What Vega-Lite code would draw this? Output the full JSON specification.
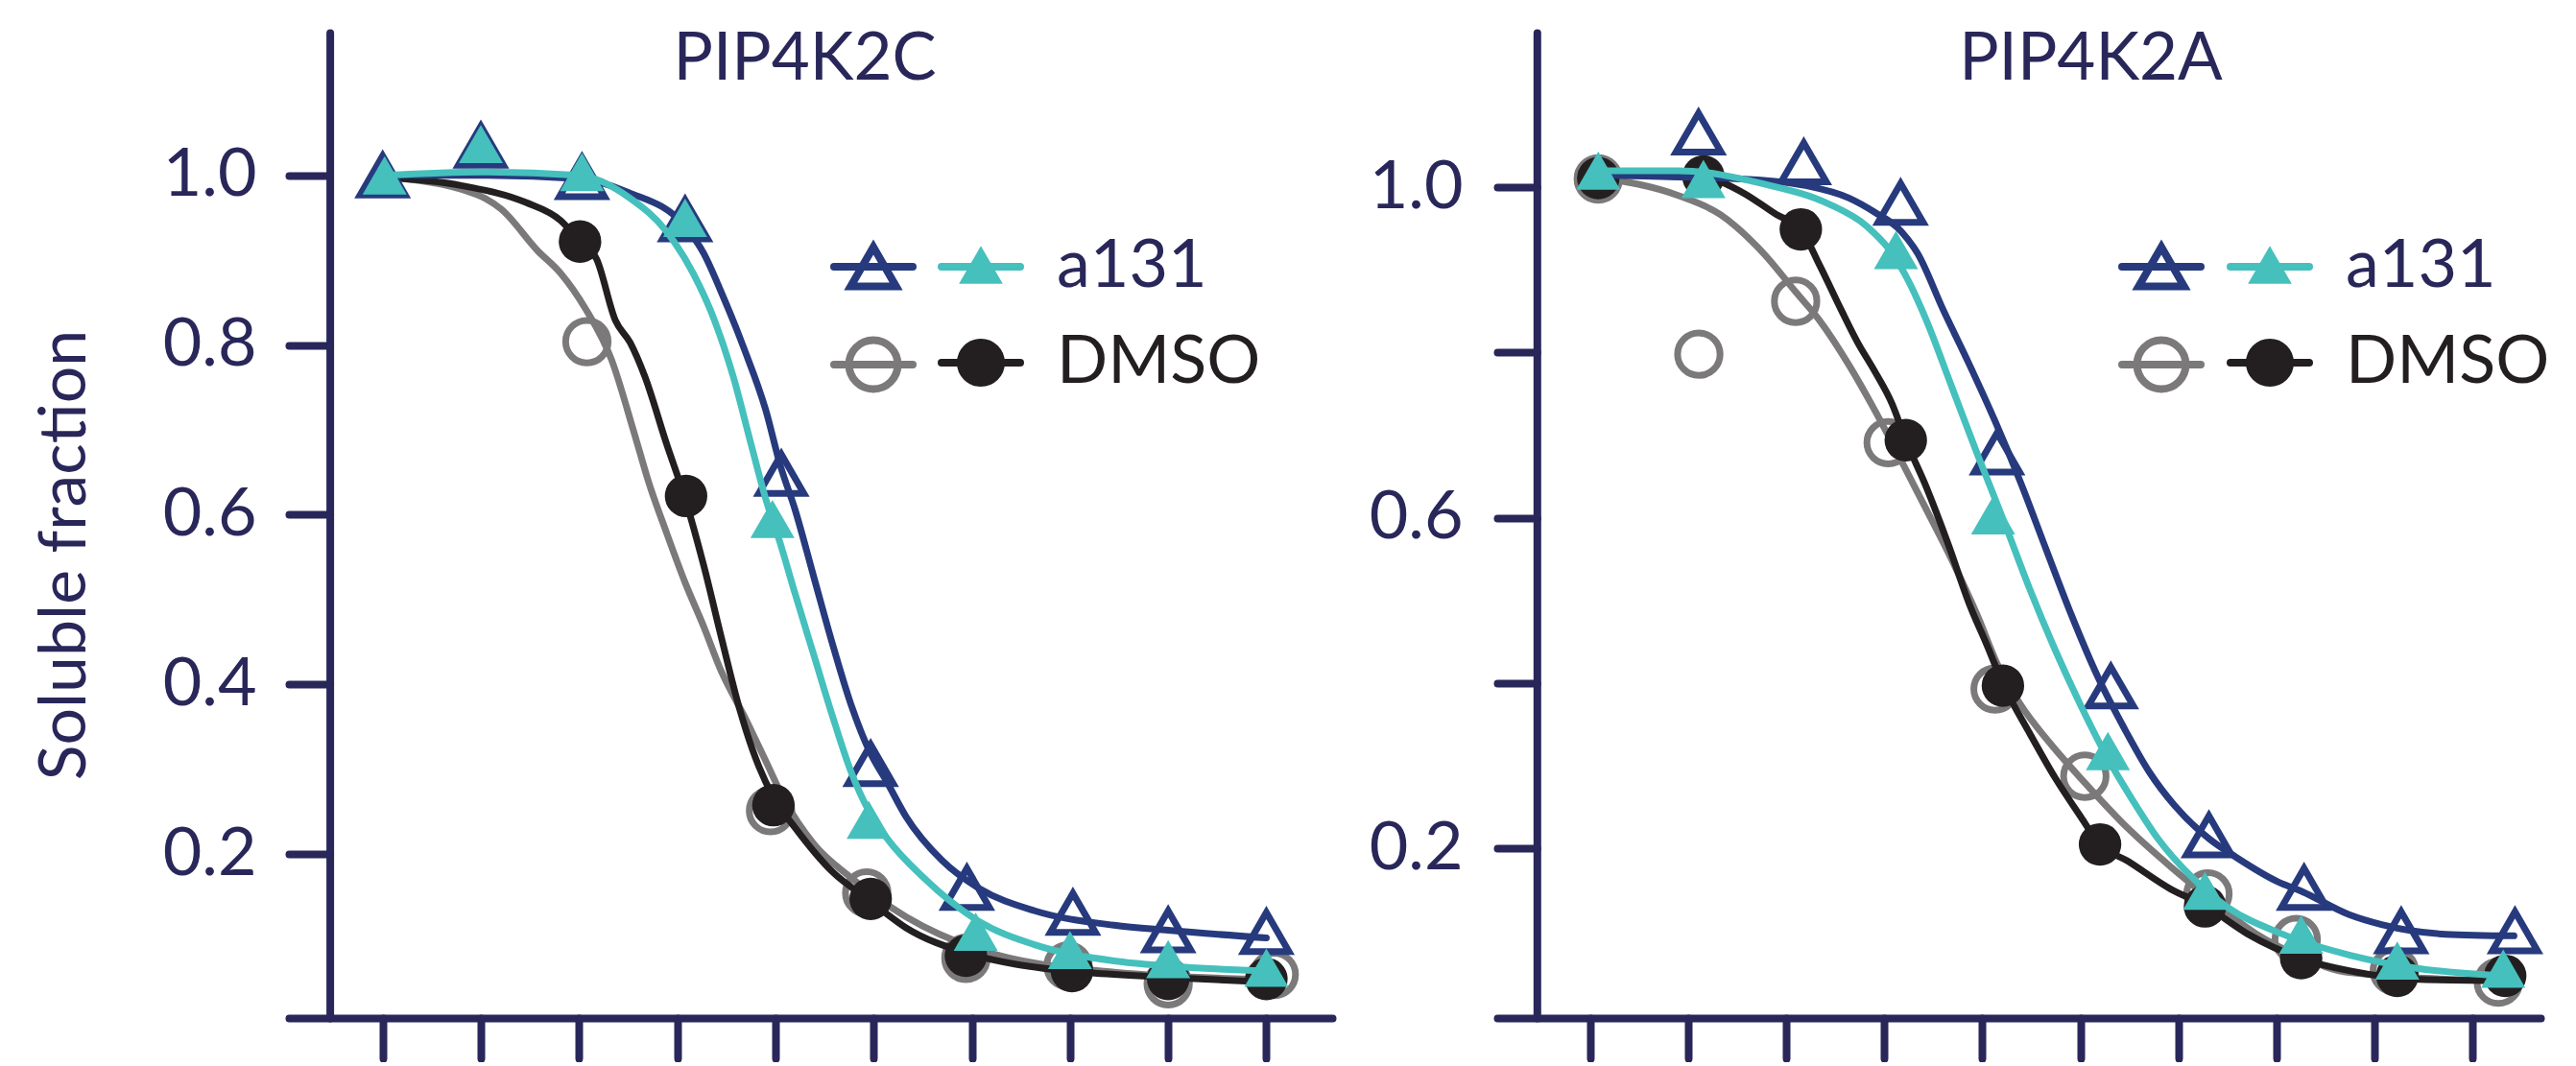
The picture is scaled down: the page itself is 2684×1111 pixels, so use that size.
{
"$schema": "https://vega.github.io/schema/vega-lite/v6.json",
"background": "white",
"padding": {"left": 34, "top": 28, "right": 0, "bottom": 0},
"spacing": 38,
"config": {
  "view": {"stroke": null},
  "font": "Lato",
  "axis": {"grid": false, "domainColor": "#292759", "tickColor": "#292759", "domainWidth": 8, "tickWidth": 8, "domainCap": "round", "tickCap": "round", "labelColor": "#292759", "labelFont": "Lato", "labelFontSize": 70, "titleColor": "#292759", "titleFont": "Lato", "titleFontWeight": "normal"},
  "title": {"font": "Lato", "fontSize": 69, "fontWeight": "normal", "color": "#292759"}
},
"datasets": {
  "pts": [
    {"p":"PIP4K2C","g":"a131","r":"open","x":1.0,"y":1.0},{"p":"PIP4K2C","g":"a131","r":"open","x":2.0,"y":1.035},{"p":"PIP4K2C","g":"a131","r":"open","x":3.03,"y":0.998},{"p":"PIP4K2C","g":"a131","r":"open","x":4.08,"y":0.948},{"p":"PIP4K2C","g":"a131","r":"open","x":5.06,"y":0.648},{"p":"PIP4K2C","g":"a131","r":"open","x":5.97,"y":0.306},{"p":"PIP4K2C","g":"a131","r":"open","x":6.95,"y":0.16},{"p":"PIP4K2C","g":"a131","r":"open","x":8.03,"y":0.1305},{"p":"PIP4K2C","g":"a131","r":"open","x":9.0,"y":0.11},{"p":"PIP4K2C","g":"a131","r":"open","x":10.0,"y":0.108},
    {"p":"PIP4K2C","g":"a131","r":"filled","x":1.02,"y":1.0},{"p":"PIP4K2C","g":"a131","r":"filled","x":2.0,"y":1.037},{"p":"PIP4K2C","g":"a131","r":"filled","x":3.03,"y":1.004},{"p":"PIP4K2C","g":"a131","r":"filled","x":4.08,"y":0.95},{"p":"PIP4K2C","g":"a131","r":"filled","x":4.97,"y":0.595},{"p":"PIP4K2C","g":"a131","r":"filled","x":5.95,"y":0.2404},{"p":"PIP4K2C","g":"a131","r":"filled","x":7.04,"y":0.1084},{"p":"PIP4K2C","g":"a131","r":"filled","x":8.0,"y":0.0868},{"p":"PIP4K2C","g":"a131","r":"filled","x":9.0,"y":0.076},{"p":"PIP4K2C","g":"a131","r":"filled","x":10.0,"y":0.066},
    {"p":"PIP4K2C","g":"DMSO","r":"filled","x":3.01,"y":0.922},{"p":"PIP4K2C","g":"DMSO","r":"filled","x":4.09,"y":0.622},{"p":"PIP4K2C","g":"DMSO","r":"filled","x":4.98,"y":0.2575},{"p":"PIP4K2C","g":"DMSO","r":"filled","x":5.97,"y":0.147},{"p":"PIP4K2C","g":"DMSO","r":"filled","x":6.94,"y":0.08},{"p":"PIP4K2C","g":"DMSO","r":"filled","x":8.02,"y":0.062},{"p":"PIP4K2C","g":"DMSO","r":"filled","x":9.0,"y":0.0526},{"p":"PIP4K2C","g":"DMSO","r":"filled","x":10.0,"y":0.0526},
    {"p":"PIP4K2C","g":"DMSO","r":"open","x":3.08,"y":0.804},{"p":"PIP4K2C","g":"DMSO","r":"open","x":4.95,"y":0.251},{"p":"PIP4K2C","g":"DMSO","r":"open","x":5.93,"y":0.154},{"p":"PIP4K2C","g":"DMSO","r":"open","x":6.94,"y":0.077},{"p":"PIP4K2C","g":"DMSO","r":"open","x":7.98,"y":0.068},{"p":"PIP4K2C","g":"DMSO","r":"open","x":9.0,"y":0.047},{"p":"PIP4K2C","g":"DMSO","r":"open","x":10.08,"y":0.058},
    {"p":"PIP4K2A","g":"a131","r":"open","x":2.107,"y":1.066},{"p":"PIP4K2A","g":"a131","r":"open","x":3.18,"y":1.03},{"p":"PIP4K2A","g":"a131","r":"open","x":4.167,"y":0.981},{"p":"PIP4K2A","g":"a131","r":"open","x":5.15,"y":0.679},{"p":"PIP4K2A","g":"a131","r":"open","x":6.31,"y":0.396},{"p":"PIP4K2A","g":"a131","r":"open","x":7.31,"y":0.216},{"p":"PIP4K2A","g":"a131","r":"open","x":8.28,"y":0.1525},{"p":"PIP4K2A","g":"a131","r":"open","x":9.27,"y":0.1},{"p":"PIP4K2A","g":"a131","r":"open","x":10.43,"y":0.1},
    {"p":"PIP4K2A","g":"a131","r":"filled","x":1.085,"y":1.02},{"p":"PIP4K2A","g":"a131","r":"filled","x":2.157,"y":1.01},{"p":"PIP4K2A","g":"a131","r":"filled","x":4.12,"y":0.924},{"p":"PIP4K2A","g":"a131","r":"filled","x":5.11,"y":0.603},{"p":"PIP4K2A","g":"a131","r":"filled","x":6.28,"y":0.318},{"p":"PIP4K2A","g":"a131","r":"filled","x":7.27,"y":0.149},{"p":"PIP4K2A","g":"a131","r":"filled","x":8.25,"y":0.096},{"p":"PIP4K2A","g":"a131","r":"filled","x":9.23,"y":0.0645},{"p":"PIP4K2A","g":"a131","r":"filled","x":10.31,"y":0.0548},
    {"p":"PIP4K2A","g":"DMSO","r":"filled","x":1.085,"y":1.011},{"p":"PIP4K2A","g":"DMSO","r":"filled","x":2.157,"y":1.013},{"p":"PIP4K2A","g":"DMSO","r":"filled","x":3.15,"y":0.949},{"p":"PIP4K2A","g":"DMSO","r":"filled","x":4.22,"y":0.694},{"p":"PIP4K2A","g":"DMSO","r":"filled","x":5.21,"y":0.397},{"p":"PIP4K2A","g":"DMSO","r":"filled","x":6.2,"y":0.205},{"p":"PIP4K2A","g":"DMSO","r":"filled","x":7.27,"y":0.13},{"p":"PIP4K2A","g":"DMSO","r":"filled","x":8.25,"y":0.0674},{"p":"PIP4K2A","g":"DMSO","r":"filled","x":9.23,"y":0.0461},{"p":"PIP4K2A","g":"DMSO","r":"filled","x":10.33,"y":0.046},
    {"p":"PIP4K2A","g":"DMSO","r":"open","x":1.085,"y":1.01},{"p":"PIP4K2A","g":"DMSO","r":"open","x":2.11,"y":0.798},{"p":"PIP4K2A","g":"DMSO","r":"open","x":3.097,"y":0.862},{"p":"PIP4K2A","g":"DMSO","r":"open","x":4.04,"y":0.691},{"p":"PIP4K2A","g":"DMSO","r":"open","x":5.13,"y":0.393},{"p":"PIP4K2A","g":"DMSO","r":"open","x":6.045,"y":0.2875},{"p":"PIP4K2A","g":"DMSO","r":"open","x":7.3,"y":0.145},{"p":"PIP4K2A","g":"DMSO","r":"open","x":8.2,"y":0.09},{"p":"PIP4K2A","g":"DMSO","r":"open","x":9.2,"y":0.052},{"p":"PIP4K2A","g":"DMSO","r":"open","x":10.26,"y":0.0383}
  ],
  "fit": [
    {"p":"PIP4K2C","g":"a131","r":"open","x":1.0,"y":1.0},{"p":"PIP4K2C","g":"a131","r":"open","x":2.0,"y":1.0},{"p":"PIP4K2C","g":"a131","r":"open","x":3.0,"y":0.996},{"p":"PIP4K2C","g":"a131","r":"open","x":3.5,"y":0.98},{"p":"PIP4K2C","g":"a131","r":"open","x":4.08,"y":0.94},{"p":"PIP4K2C","g":"a131","r":"open","x":4.27,"y":0.908},{"p":"PIP4K2C","g":"a131","r":"open","x":4.45,"y":0.862},{"p":"PIP4K2C","g":"a131","r":"open","x":4.68,"y":0.796},{"p":"PIP4K2C","g":"a131","r":"open","x":4.9,"y":0.724},{"p":"PIP4K2C","g":"a131","r":"open","x":5.05,"y":0.658},{"p":"PIP4K2C","g":"a131","r":"open","x":5.2,"y":0.606},{"p":"PIP4K2C","g":"a131","r":"open","x":5.39,"y":0.527},{"p":"PIP4K2C","g":"a131","r":"open","x":5.58,"y":0.448},{"p":"PIP4K2C","g":"a131","r":"open","x":5.77,"y":0.376},{"p":"PIP4K2C","g":"a131","r":"open","x":5.95,"y":0.323},{"p":"PIP4K2C","g":"a131","r":"open","x":6.14,"y":0.284},{"p":"PIP4K2C","g":"a131","r":"open","x":6.33,"y":0.244},{"p":"PIP4K2C","g":"a131","r":"open","x":6.7,"y":0.192},{"p":"PIP4K2C","g":"a131","r":"open","x":7.08,"y":0.159},{"p":"PIP4K2C","g":"a131","r":"open","x":7.64,"y":0.133},{"p":"PIP4K2C","g":"a131","r":"open","x":8.45,"y":0.116},{"p":"PIP4K2C","g":"a131","r":"open","x":9.0,"y":0.11},{"p":"PIP4K2C","g":"a131","r":"open","x":10.0,"y":0.101},
    {"p":"PIP4K2C","g":"a131","r":"filled","x":1.02,"y":1.0},{"p":"PIP4K2C","g":"a131","r":"filled","x":2.0,"y":1.004},{"p":"PIP4K2C","g":"a131","r":"filled","x":3.0,"y":1.0},{"p":"PIP4K2C","g":"a131","r":"filled","x":3.52,"y":0.973},{"p":"PIP4K2C","g":"a131","r":"filled","x":3.89,"y":0.934},{"p":"PIP4K2C","g":"a131","r":"filled","x":4.16,"y":0.885},{"p":"PIP4K2C","g":"a131","r":"filled","x":4.38,"y":0.829},{"p":"PIP4K2C","g":"a131","r":"filled","x":4.57,"y":0.763},{"p":"PIP4K2C","g":"a131","r":"filled","x":4.75,"y":0.684},{"p":"PIP4K2C","g":"a131","r":"filled","x":4.9,"y":0.619},{"p":"PIP4K2C","g":"a131","r":"filled","x":5.05,"y":0.566},{"p":"PIP4K2C","g":"a131","r":"filled","x":5.2,"y":0.507},{"p":"PIP4K2C","g":"a131","r":"filled","x":5.39,"y":0.435},{"p":"PIP4K2C","g":"a131","r":"filled","x":5.58,"y":0.363},{"p":"PIP4K2C","g":"a131","r":"filled","x":5.77,"y":0.297},{"p":"PIP4K2C","g":"a131","r":"filled","x":5.95,"y":0.251},{"p":"PIP4K2C","g":"a131","r":"filled","x":6.14,"y":0.218},{"p":"PIP4K2C","g":"a131","r":"filled","x":6.51,"y":0.172},{"p":"PIP4K2C","g":"a131","r":"filled","x":7.08,"y":0.12},{"p":"PIP4K2C","g":"a131","r":"filled","x":7.64,"y":0.093},{"p":"PIP4K2C","g":"a131","r":"filled","x":8.45,"y":0.074},{"p":"PIP4K2C","g":"a131","r":"filled","x":9.0,"y":0.068},{"p":"PIP4K2C","g":"a131","r":"filled","x":10.0,"y":0.062},
    {"p":"PIP4K2C","g":"DMSO","r":"filled","x":1.0,"y":0.998},{"p":"PIP4K2C","g":"DMSO","r":"filled","x":1.8,"y":0.988},{"p":"PIP4K2C","g":"DMSO","r":"filled","x":2.46,"y":0.968},{"p":"PIP4K2C","g":"DMSO","r":"filled","x":2.81,"y":0.947},{"p":"PIP4K2C","g":"DMSO","r":"filled","x":3.01,"y":0.922},{"p":"PIP4K2C","g":"DMSO","r":"filled","x":3.18,"y":0.901},{"p":"PIP4K2C","g":"DMSO","r":"filled","x":3.37,"y":0.829},{"p":"PIP4K2C","g":"DMSO","r":"filled","x":3.52,"y":0.803},{"p":"PIP4K2C","g":"DMSO","r":"filled","x":3.67,"y":0.763},{"p":"PIP4K2C","g":"DMSO","r":"filled","x":3.89,"y":0.684},{"p":"PIP4K2C","g":"DMSO","r":"filled","x":4.08,"y":0.619},{"p":"PIP4K2C","g":"DMSO","r":"filled","x":4.27,"y":0.54},{"p":"PIP4K2C","g":"DMSO","r":"filled","x":4.45,"y":0.455},{"p":"PIP4K2C","g":"DMSO","r":"filled","x":4.64,"y":0.369},{"p":"PIP4K2C","g":"DMSO","r":"filled","x":4.83,"y":0.3035},{"p":"PIP4K2C","g":"DMSO","r":"filled","x":4.98,"y":0.267},{"p":"PIP4K2C","g":"DMSO","r":"filled","x":5.2,"y":0.231},{"p":"PIP4K2C","g":"DMSO","r":"filled","x":5.58,"y":0.179},{"p":"PIP4K2C","g":"DMSO","r":"filled","x":5.95,"y":0.146},{"p":"PIP4K2C","g":"DMSO","r":"filled","x":6.33,"y":0.113},{"p":"PIP4K2C","g":"DMSO","r":"filled","x":6.94,"y":0.0835},{"p":"PIP4K2C","g":"DMSO","r":"filled","x":7.45,"y":0.07},{"p":"PIP4K2C","g":"DMSO","r":"filled","x":8.2,"y":0.06},{"p":"PIP4K2C","g":"DMSO","r":"filled","x":9.0,"y":0.0545},{"p":"PIP4K2C","g":"DMSO","r":"filled","x":10.0,"y":0.049},
    {"p":"PIP4K2C","g":"DMSO","r":"open","x":1.0,"y":0.998},{"p":"PIP4K2C","g":"DMSO","r":"open","x":1.79,"y":0.984},{"p":"PIP4K2C","g":"DMSO","r":"open","x":2.21,"y":0.96},{"p":"PIP4K2C","g":"DMSO","r":"open","x":2.58,"y":0.911},{"p":"PIP4K2C","g":"DMSO","r":"open","x":2.81,"y":0.885},{"p":"PIP4K2C","g":"DMSO","r":"open","x":3.07,"y":0.842},{"p":"PIP4K2C","g":"DMSO","r":"open","x":3.33,"y":0.783},{"p":"PIP4K2C","g":"DMSO","r":"open","x":3.56,"y":0.697},{"p":"PIP4K2C","g":"DMSO","r":"open","x":3.71,"y":0.638},{"p":"PIP4K2C","g":"DMSO","r":"open","x":3.89,"y":0.579},{"p":"PIP4K2C","g":"DMSO","r":"open","x":4.08,"y":0.52},{"p":"PIP4K2C","g":"DMSO","r":"open","x":4.27,"y":0.468},{"p":"PIP4K2C","g":"DMSO","r":"open","x":4.45,"y":0.415},{"p":"PIP4K2C","g":"DMSO","r":"open","x":4.68,"y":0.363},{"p":"PIP4K2C","g":"DMSO","r":"open","x":4.9,"y":0.31},{"p":"PIP4K2C","g":"DMSO","r":"open","x":5.09,"y":0.264},{"p":"PIP4K2C","g":"DMSO","r":"open","x":5.39,"y":0.212},{"p":"PIP4K2C","g":"DMSO","r":"open","x":5.77,"y":0.172},{"p":"PIP4K2C","g":"DMSO","r":"open","x":6.33,"y":0.126},{"p":"PIP4K2C","g":"DMSO","r":"open","x":7.08,"y":0.087},{"p":"PIP4K2C","g":"DMSO","r":"open","x":8.45,"y":0.0605},{"p":"PIP4K2C","g":"DMSO","r":"open","x":10.0,"y":0.052},
    {"p":"PIP4K2A","g":"a131","r":"open","x":1.085,"y":1.015},{"p":"PIP4K2A","g":"a131","r":"open","x":2.0,"y":1.012},{"p":"PIP4K2A","g":"a131","r":"open","x":2.55,"y":1.01},{"p":"PIP4K2A","g":"a131","r":"open","x":3.2,"y":1.002},{"p":"PIP4K2A","g":"a131","r":"open","x":3.64,"y":0.987},{"p":"PIP4K2A","g":"a131","r":"open","x":3.9,"y":0.97},{"p":"PIP4K2A","g":"a131","r":"open","x":4.17,"y":0.947},{"p":"PIP4K2A","g":"a131","r":"open","x":4.34,"y":0.92},{"p":"PIP4K2A","g":"a131","r":"open","x":4.6,"y":0.852},{"p":"PIP4K2A","g":"a131","r":"open","x":4.87,"y":0.785},{"p":"PIP4K2A","g":"a131","r":"open","x":5.13,"y":0.717},{"p":"PIP4K2A","g":"a131","r":"open","x":5.39,"y":0.643},{"p":"PIP4K2A","g":"a131","r":"open","x":5.65,"y":0.562},{"p":"PIP4K2A","g":"a131","r":"open","x":5.91,"y":0.482},{"p":"PIP4K2A","g":"a131","r":"open","x":6.18,"y":0.407},{"p":"PIP4K2A","g":"a131","r":"open","x":6.44,"y":0.347},{"p":"PIP4K2A","g":"a131","r":"open","x":6.7,"y":0.293},{"p":"PIP4K2A","g":"a131","r":"open","x":6.96,"y":0.252},{"p":"PIP4K2A","g":"a131","r":"open","x":7.31,"y":0.212},{"p":"PIP4K2A","g":"a131","r":"open","x":7.58,"y":0.19},{"p":"PIP4K2A","g":"a131","r":"open","x":8.01,"y":0.16},{"p":"PIP4K2A","g":"a131","r":"open","x":8.26,"y":0.148},{"p":"PIP4K2A","g":"a131","r":"open","x":8.74,"y":0.12},{"p":"PIP4K2A","g":"a131","r":"open","x":9.07,"y":0.108},{"p":"PIP4K2A","g":"a131","r":"open","x":9.72,"y":0.0964},{"p":"PIP4K2A","g":"a131","r":"open","x":10.42,"y":0.0944},
    {"p":"PIP4K2A","g":"a131","r":"filled","x":1.085,"y":1.02},{"p":"PIP4K2A","g":"a131","r":"filled","x":1.9,"y":1.02},{"p":"PIP4K2A","g":"a131","r":"filled","x":2.77,"y":1.004},{"p":"PIP4K2A","g":"a131","r":"filled","x":3.43,"y":0.98},{"p":"PIP4K2A","g":"a131","r":"filled","x":3.82,"y":0.953},{"p":"PIP4K2A","g":"a131","r":"filled","x":4.08,"y":0.92},{"p":"PIP4K2A","g":"a131","r":"filled","x":4.25,"y":0.886},{"p":"PIP4K2A","g":"a131","r":"filled","x":4.43,"y":0.839},{"p":"PIP4K2A","g":"a131","r":"filled","x":4.69,"y":0.758},{"p":"PIP4K2A","g":"a131","r":"filled","x":4.95,"y":0.677},{"p":"PIP4K2A","g":"a131","r":"filled","x":5.22,"y":0.596},{"p":"PIP4K2A","g":"a131","r":"filled","x":5.48,"y":0.515},{"p":"PIP4K2A","g":"a131","r":"filled","x":5.74,"y":0.441},{"p":"PIP4K2A","g":"a131","r":"filled","x":6.0,"y":0.374},{"p":"PIP4K2A","g":"a131","r":"filled","x":6.26,"y":0.313},{"p":"PIP4K2A","g":"a131","r":"filled","x":6.53,"y":0.259},{"p":"PIP4K2A","g":"a131","r":"filled","x":6.79,"y":0.212},{"p":"PIP4K2A","g":"a131","r":"filled","x":7.14,"y":0.165},{"p":"PIP4K2A","g":"a131","r":"filled","x":7.5,"y":0.129},{"p":"PIP4K2A","g":"a131","r":"filled","x":8.05,"y":0.097},{"p":"PIP4K2A","g":"a131","r":"filled","x":8.75,"y":0.071},{"p":"PIP4K2A","g":"a131","r":"filled","x":9.4,"y":0.0557},{"p":"PIP4K2A","g":"a131","r":"filled","x":10.31,"y":0.046},
    {"p":"PIP4K2A","g":"DMSO","r":"filled","x":1.085,"y":1.015},{"p":"PIP4K2A","g":"DMSO","r":"filled","x":2.157,"y":1.012},{"p":"PIP4K2A","g":"DMSO","r":"filled","x":2.55,"y":0.994},{"p":"PIP4K2A","g":"DMSO","r":"filled","x":2.9,"y":0.967},{"p":"PIP4K2A","g":"DMSO","r":"filled","x":3.15,"y":0.949},{"p":"PIP4K2A","g":"DMSO","r":"filled","x":3.34,"y":0.906},{"p":"PIP4K2A","g":"DMSO","r":"filled","x":3.56,"y":0.852},{"p":"PIP4K2A","g":"DMSO","r":"filled","x":3.73,"y":0.812},{"p":"PIP4K2A","g":"DMSO","r":"filled","x":3.9,"y":0.778},{"p":"PIP4K2A","g":"DMSO","r":"filled","x":4.08,"y":0.738},{"p":"PIP4K2A","g":"DMSO","r":"filled","x":4.22,"y":0.694},{"p":"PIP4K2A","g":"DMSO","r":"filled","x":4.43,"y":0.637},{"p":"PIP4K2A","g":"DMSO","r":"filled","x":4.65,"y":0.569},{"p":"PIP4K2A","g":"DMSO","r":"filled","x":4.87,"y":0.495},{"p":"PIP4K2A","g":"DMSO","r":"filled","x":5.04,"y":0.448},{"p":"PIP4K2A","g":"DMSO","r":"filled","x":5.22,"y":0.397},{"p":"PIP4K2A","g":"DMSO","r":"filled","x":5.48,"y":0.34},{"p":"PIP4K2A","g":"DMSO","r":"filled","x":5.74,"y":0.286},{"p":"PIP4K2A","g":"DMSO","r":"filled","x":6.0,"y":0.239},{"p":"PIP4K2A","g":"DMSO","r":"filled","x":6.2,"y":0.205},{"p":"PIP4K2A","g":"DMSO","r":"filled","x":6.48,"y":0.185},{"p":"PIP4K2A","g":"DMSO","r":"filled","x":6.92,"y":0.151},{"p":"PIP4K2A","g":"DMSO","r":"filled","x":7.27,"y":0.131},{"p":"PIP4K2A","g":"DMSO","r":"filled","x":7.7,"y":0.097},{"p":"PIP4K2A","g":"DMSO","r":"filled","x":8.25,"y":0.067},{"p":"PIP4K2A","g":"DMSO","r":"filled","x":8.75,"y":0.052},{"p":"PIP4K2A","g":"DMSO","r":"filled","x":9.4,"y":0.042},{"p":"PIP4K2A","g":"DMSO","r":"filled","x":10.33,"y":0.04},
    {"p":"PIP4K2A","g":"DMSO","r":"open","x":1.085,"y":1.012},{"p":"PIP4K2A","g":"DMSO","r":"open","x":1.9,"y":0.99},{"p":"PIP4K2A","g":"DMSO","r":"open","x":2.33,"y":0.967},{"p":"PIP4K2A","g":"DMSO","r":"open","x":2.77,"y":0.92},{"p":"PIP4K2A","g":"DMSO","r":"open","x":3.1,"y":0.873},{"p":"PIP4K2A","g":"DMSO","r":"open","x":3.34,"y":0.839},{"p":"PIP4K2A","g":"DMSO","r":"open","x":3.64,"y":0.785},{"p":"PIP4K2A","g":"DMSO","r":"open","x":3.9,"y":0.731},{"p":"PIP4K2A","g":"DMSO","r":"open","x":4.17,"y":0.67},{"p":"PIP4K2A","g":"DMSO","r":"open","x":4.43,"y":0.61},{"p":"PIP4K2A","g":"DMSO","r":"open","x":4.69,"y":0.549},{"p":"PIP4K2A","g":"DMSO","r":"open","x":4.95,"y":0.482},{"p":"PIP4K2A","g":"DMSO","r":"open","x":5.15,"y":0.424},{"p":"PIP4K2A","g":"DMSO","r":"open","x":5.39,"y":0.374},{"p":"PIP4K2A","g":"DMSO","r":"open","x":5.7,"y":0.326},{"p":"PIP4K2A","g":"DMSO","r":"open","x":6.05,"y":0.279},{"p":"PIP4K2A","g":"DMSO","r":"open","x":6.48,"y":0.225},{"p":"PIP4K2A","g":"DMSO","r":"open","x":6.92,"y":0.178},{"p":"PIP4K2A","g":"DMSO","r":"open","x":7.3,"y":0.141},{"p":"PIP4K2A","g":"DMSO","r":"open","x":7.79,"y":0.097},{"p":"PIP4K2A","g":"DMSO","r":"open","x":8.23,"y":0.07},{"p":"PIP4K2A","g":"DMSO","r":"open","x":8.74,"y":0.05},{"p":"PIP4K2A","g":"DMSO","r":"open","x":10.26,"y":0.04}
  ]
},
"hconcat": [
  {
    "width": 1087, "height": 1027,
    "title": {"text": "PIP4K2C", "anchor": "middle", "frame": "group", "baseline": "alphabetic", "offset": -43, "dx": -6, "dy": 75},
    "encoding": {
      "x": {"field": "x", "type": "quantitative", "scale": {"domain": [0.045, 10.67], "nice": false, "zero": false}, "axis": {"values": [1,2,3,4,5,6,7,8,9,10], "labels": false, "tickSize": 42, "title": null}},
      "y": {"field": "y", "type": "quantitative", "scale": {"domain": [0.0066, 1.1683], "nice": false, "zero": false}, "axis": {"values": [0.2,0.4,0.6,0.8,1.0], "format": ".1f", "tickSize": 42.6, "labelPadding": 34, "offset": -42.6, "title": "Soluble fraction", "titleFontSize": 68, "titleAngle": -90, "titleX": -255, "titleY": 544, "titleAlign": "center", "titleBaseline": "alphabetic"}}
    },
    "layer": [
      {"data": {"name": "fit"}, "transform": [{"filter": "datum.p === 'PIP4K2C' && datum.r === 'open' && datum.g === 'DMSO'"}], "mark": {"type": "line", "interpolate": "monotone", "strokeWidth": 7, "strokeCap": "round"},
       "encoding": {"stroke": {"field": "g", "type": "nominal", "scale": {"range": ["#7b797a", "#273a7d"]}, "legend": {"orient": "none", "legendX": 564, "legendY": 199, "title": null, "values": ["a131", "DMSO"], "padding": 0, "rowPadding": 20, "symbolSize": 6724, "symbolStrokeWidth": 8, "labelFontSize": 70, "labelExpr": "''", "labelOffset": 0, "encode": {"symbols": {"update": {"shape": {"signal": "datum.value === 'a131' ? 'M-1,0H1M0,-0.5L0.578,0.5L-0.578,0.5Z' : 'M-1,0H1M-0.62,0A0.62,0.62 0 1,0 0.62,0A0.62,0.62 0 1,0 -0.62,0'"}, "stroke": {"signal": "datum.value === 'a131' ? '#273a7d' : '#7b797a'"}, "fill": {"value": "transparent"}, "strokeWidth": {"value": 8}, "strokeCap": {"value": "round"}, "opacity": {"value": 1}, "size": {"value": 6724}}}}}}}},
      {"data": {"name": "pts"}, "transform": [{"filter": "datum.p === 'PIP4K2C' && datum.r === 'open' && datum.g === 'DMSO'"}], "mark": {"type": "point", "shape": "circle", "filled": false, "opacity": 1, "size": 1963, "strokeWidth": 7},
       "encoding": {"stroke": {"field": "g", "type": "nominal", "scale": {"range": ["#7b797a", "#273a7d"]}, "legend": {"orient": "none", "legendX": 564, "legendY": 199, "title": null, "values": ["a131", "DMSO"], "padding": 0, "rowPadding": 20, "symbolSize": 6724, "symbolStrokeWidth": 8, "labelFontSize": 70, "labelExpr": "''", "labelOffset": 0, "encode": {"symbols": {"update": {"shape": {"signal": "datum.value === 'a131' ? 'M-1,0H1M0,-0.5L0.578,0.5L-0.578,0.5Z' : 'M-1,0H1M-0.62,0A0.62,0.62 0 1,0 0.62,0A0.62,0.62 0 1,0 -0.62,0'"}, "stroke": {"signal": "datum.value === 'a131' ? '#273a7d' : '#7b797a'"}, "fill": {"value": "transparent"}, "strokeWidth": {"value": 8}, "strokeCap": {"value": "round"}, "opacity": {"value": 1}, "size": {"value": 6724}}}}}}}},
      {"data": {"name": "fit"}, "transform": [{"filter": "datum.p === 'PIP4K2C' && datum.r === 'filled' && datum.g === 'DMSO'"}], "mark": {"type": "line", "interpolate": "monotone", "strokeWidth": 7, "strokeCap": "round"},
       "encoding": {"color": {"field": "g", "type": "nominal", "scale": {"range": ["#231f20", "#45c0bd"]}, "legend": {"orient": "none", "legendX": 676, "legendY": 199, "title": null, "values": ["a131", "DMSO"], "padding": 0, "rowPadding": 20, "symbolSize": 6724, "symbolStrokeWidth": 8, "labelFontSize": 70, "labelFont": "Lato", "labelOffset": 34, "labelLimit": 600, "encode": {"symbols": {"update": {"shape": {"signal": "datum.value === 'a131' ? 'M-1,0H1M0,-0.335L0.388,0.335L-0.388,0.335Z' : 'M-1,0H1M-0.512,0A0.512,0.512 0 1,0 0.512,0A0.512,0.512 0 1,0 -0.512,0'"}, "stroke": {"signal": "datum.value === 'a131' ? '#45c0bd' : '#231f20'"}, "fill": {"signal": "datum.value === 'a131' ? '#45c0bd' : '#231f20'"}, "strokeWidth": {"value": 8}, "strokeCap": {"value": "round"}, "opacity": {"value": 1}, "size": {"value": 6724}}}, "labels": {"update": {"fill": {"signal": "datum.value === 'a131' ? '#292759' : '#231f20'"}}}}}}}},
      {"data": {"name": "pts"}, "transform": [{"filter": "datum.p === 'PIP4K2C' && datum.r === 'filled' && datum.g === 'DMSO'"}], "mark": {"type": "point", "shape": "circle", "filled": true, "opacity": 1, "size": 1963, "strokeWidth": 0},
       "encoding": {"color": {"field": "g", "type": "nominal", "scale": {"range": ["#231f20", "#45c0bd"]}, "legend": {"orient": "none", "legendX": 676, "legendY": 199, "title": null, "values": ["a131", "DMSO"], "padding": 0, "rowPadding": 20, "symbolSize": 6724, "symbolStrokeWidth": 8, "labelFontSize": 70, "labelFont": "Lato", "labelOffset": 34, "labelLimit": 600, "encode": {"symbols": {"update": {"shape": {"signal": "datum.value === 'a131' ? 'M-1,0H1M0,-0.335L0.388,0.335L-0.388,0.335Z' : 'M-1,0H1M-0.512,0A0.512,0.512 0 1,0 0.512,0A0.512,0.512 0 1,0 -0.512,0'"}, "stroke": {"signal": "datum.value === 'a131' ? '#45c0bd' : '#231f20'"}, "fill": {"signal": "datum.value === 'a131' ? '#45c0bd' : '#231f20'"}, "strokeWidth": {"value": 8}, "strokeCap": {"value": "round"}, "opacity": {"value": 1}, "size": {"value": 6724}}}, "labels": {"update": {"fill": {"signal": "datum.value === 'a131' ? '#292759' : '#231f20'"}}}}}}}},
      {"data": {"name": "fit"}, "transform": [{"filter": "datum.p === 'PIP4K2C' && datum.r === 'open' && datum.g === 'a131'"}], "mark": {"type": "line", "interpolate": "monotone", "strokeWidth": 7, "strokeCap": "round"},
       "encoding": {"stroke": {"field": "g", "type": "nominal", "scale": {"range": ["#7b797a", "#273a7d"]}, "legend": {"orient": "none", "legendX": 564, "legendY": 199, "title": null, "values": ["a131", "DMSO"], "padding": 0, "rowPadding": 20, "symbolSize": 6724, "symbolStrokeWidth": 8, "labelFontSize": 70, "labelExpr": "''", "labelOffset": 0, "encode": {"symbols": {"update": {"shape": {"signal": "datum.value === 'a131' ? 'M-1,0H1M0,-0.5L0.578,0.5L-0.578,0.5Z' : 'M-1,0H1M-0.62,0A0.62,0.62 0 1,0 0.62,0A0.62,0.62 0 1,0 -0.62,0'"}, "stroke": {"signal": "datum.value === 'a131' ? '#273a7d' : '#7b797a'"}, "fill": {"value": "transparent"}, "strokeWidth": {"value": 8}, "strokeCap": {"value": "round"}, "opacity": {"value": 1}, "size": {"value": 6724}}}}}}}},
      {"data": {"name": "pts"}, "transform": [{"filter": "datum.p === 'PIP4K2C' && datum.r === 'open' && datum.g === 'a131'"}], "mark": {"type": "point", "shape": "triangle-up", "filled": false, "opacity": 1, "size": 2209, "strokeWidth": 7},
       "encoding": {"stroke": {"field": "g", "type": "nominal", "scale": {"range": ["#7b797a", "#273a7d"]}, "legend": {"orient": "none", "legendX": 564, "legendY": 199, "title": null, "values": ["a131", "DMSO"], "padding": 0, "rowPadding": 20, "symbolSize": 6724, "symbolStrokeWidth": 8, "labelFontSize": 70, "labelExpr": "''", "labelOffset": 0, "encode": {"symbols": {"update": {"shape": {"signal": "datum.value === 'a131' ? 'M-1,0H1M0,-0.5L0.578,0.5L-0.578,0.5Z' : 'M-1,0H1M-0.62,0A0.62,0.62 0 1,0 0.62,0A0.62,0.62 0 1,0 -0.62,0'"}, "stroke": {"signal": "datum.value === 'a131' ? '#273a7d' : '#7b797a'"}, "fill": {"value": "transparent"}, "strokeWidth": {"value": 8}, "strokeCap": {"value": "round"}, "opacity": {"value": 1}, "size": {"value": 6724}}}}}}}},
      {"data": {"name": "fit"}, "transform": [{"filter": "datum.p === 'PIP4K2C' && datum.r === 'filled' && datum.g === 'a131'"}], "mark": {"type": "line", "interpolate": "monotone", "strokeWidth": 7, "strokeCap": "round"},
       "encoding": {"color": {"field": "g", "type": "nominal", "scale": {"range": ["#231f20", "#45c0bd"]}, "legend": {"orient": "none", "legendX": 676, "legendY": 199, "title": null, "values": ["a131", "DMSO"], "padding": 0, "rowPadding": 20, "symbolSize": 6724, "symbolStrokeWidth": 8, "labelFontSize": 70, "labelFont": "Lato", "labelOffset": 34, "labelLimit": 600, "encode": {"symbols": {"update": {"shape": {"signal": "datum.value === 'a131' ? 'M-1,0H1M0,-0.335L0.388,0.335L-0.388,0.335Z' : 'M-1,0H1M-0.512,0A0.512,0.512 0 1,0 0.512,0A0.512,0.512 0 1,0 -0.512,0'"}, "stroke": {"signal": "datum.value === 'a131' ? '#45c0bd' : '#231f20'"}, "fill": {"signal": "datum.value === 'a131' ? '#45c0bd' : '#231f20'"}, "strokeWidth": {"value": 8}, "strokeCap": {"value": "round"}, "opacity": {"value": 1}, "size": {"value": 6724}}}, "labels": {"update": {"fill": {"signal": "datum.value === 'a131' ? '#292759' : '#231f20'"}}}}}}}},
      {"data": {"name": "pts"}, "transform": [{"filter": "datum.p === 'PIP4K2C' && datum.r === 'filled' && datum.g === 'a131'"}], "mark": {"type": "point", "shape": "triangle-up", "filled": true, "opacity": 1, "size": 2116, "strokeWidth": 0},
       "encoding": {"color": {"field": "g", "type": "nominal", "scale": {"range": ["#231f20", "#45c0bd"]}, "legend": {"orient": "none", "legendX": 676, "legendY": 199, "title": null, "values": ["a131", "DMSO"], "padding": 0, "rowPadding": 20, "symbolSize": 6724, "symbolStrokeWidth": 8, "labelFontSize": 70, "labelFont": "Lato", "labelOffset": 34, "labelLimit": 600, "encode": {"symbols": {"update": {"shape": {"signal": "datum.value === 'a131' ? 'M-1,0H1M0,-0.335L0.388,0.335L-0.388,0.335Z' : 'M-1,0H1M-0.512,0A0.512,0.512 0 1,0 0.512,0A0.512,0.512 0 1,0 -0.512,0'"}, "stroke": {"signal": "datum.value === 'a131' ? '#45c0bd' : '#231f20'"}, "fill": {"signal": "datum.value === 'a131' ? '#45c0bd' : '#231f20'"}, "strokeWidth": {"value": 8}, "strokeCap": {"value": "round"}, "opacity": {"value": 1}, "size": {"value": 6724}}}, "labels": {"update": {"fill": {"signal": "datum.value === 'a131' ? '#292759' : '#231f20'"}}}}}}}}
    ]
  },
  {
    "width": 1087, "height": 1027,
    "title": {"text": "PIP4K2A", "anchor": "middle", "frame": "group", "baseline": "alphabetic", "offset": -43, "dx": 75, "dy": 75},
    "encoding": {
      "x": {"field": "x", "type": "quantitative", "scale": {"domain": [0.055, 10.69], "nice": false, "zero": false}, "axis": {"values": [1,2,3,4,5,6,7,8,9,10], "labels": false, "tickSize": 42, "title": null}},
      "y": {"field": "y", "type": "quantitative", "scale": {"domain": [-0.005, 1.187], "nice": false, "zero": false}, "axis": {"values": [0.2,0.4,0.6,0.8,1.0], "format": ".1f", "labelExpr": "abs(datum.value - 0.4) < 0.01 || abs(datum.value - 0.8) < 0.01 ? '' : datum.label", "tickSize": 41.3, "labelPadding": 36, "offset": -41.3, "title": null}}
    },
    "layer": [
      {"data": {"name": "fit"}, "transform": [{"filter": "datum.p === 'PIP4K2A' && datum.r === 'open' && datum.g === 'DMSO'"}], "mark": {"type": "line", "interpolate": "monotone", "strokeWidth": 7, "strokeCap": "round"},
       "encoding": {"stroke": {"field": "g", "type": "nominal", "scale": {"range": ["#7b797a", "#273a7d"]}, "legend": {"orient": "none", "legendX": 647, "legendY": 199, "title": null, "values": ["a131", "DMSO"], "padding": 0, "rowPadding": 20, "symbolSize": 6724, "symbolStrokeWidth": 8, "labelFontSize": 70, "labelExpr": "''", "labelOffset": 0, "encode": {"symbols": {"update": {"shape": {"signal": "datum.value === 'a131' ? 'M-1,0H1M0,-0.5L0.578,0.5L-0.578,0.5Z' : 'M-1,0H1M-0.62,0A0.62,0.62 0 1,0 0.62,0A0.62,0.62 0 1,0 -0.62,0'"}, "stroke": {"signal": "datum.value === 'a131' ? '#273a7d' : '#7b797a'"}, "fill": {"value": "transparent"}, "strokeWidth": {"value": 8}, "strokeCap": {"value": "round"}, "opacity": {"value": 1}, "size": {"value": 6724}}}}}}}},
      {"data": {"name": "pts"}, "transform": [{"filter": "datum.p === 'PIP4K2A' && datum.r === 'open' && datum.g === 'DMSO'"}], "mark": {"type": "point", "shape": "circle", "filled": false, "opacity": 1, "size": 1963, "strokeWidth": 7},
       "encoding": {"stroke": {"field": "g", "type": "nominal", "scale": {"range": ["#7b797a", "#273a7d"]}, "legend": {"orient": "none", "legendX": 647, "legendY": 199, "title": null, "values": ["a131", "DMSO"], "padding": 0, "rowPadding": 20, "symbolSize": 6724, "symbolStrokeWidth": 8, "labelFontSize": 70, "labelExpr": "''", "labelOffset": 0, "encode": {"symbols": {"update": {"shape": {"signal": "datum.value === 'a131' ? 'M-1,0H1M0,-0.5L0.578,0.5L-0.578,0.5Z' : 'M-1,0H1M-0.62,0A0.62,0.62 0 1,0 0.62,0A0.62,0.62 0 1,0 -0.62,0'"}, "stroke": {"signal": "datum.value === 'a131' ? '#273a7d' : '#7b797a'"}, "fill": {"value": "transparent"}, "strokeWidth": {"value": 8}, "strokeCap": {"value": "round"}, "opacity": {"value": 1}, "size": {"value": 6724}}}}}}}},
      {"data": {"name": "fit"}, "transform": [{"filter": "datum.p === 'PIP4K2A' && datum.r === 'filled' && datum.g === 'DMSO'"}], "mark": {"type": "line", "interpolate": "monotone", "strokeWidth": 7, "strokeCap": "round"},
       "encoding": {"color": {"field": "g", "type": "nominal", "scale": {"range": ["#231f20", "#45c0bd"]}, "legend": {"orient": "none", "legendX": 760, "legendY": 199, "title": null, "values": ["a131", "DMSO"], "padding": 0, "rowPadding": 20, "symbolSize": 6724, "symbolStrokeWidth": 8, "labelFontSize": 70, "labelFont": "Lato", "labelOffset": 34, "labelLimit": 600, "encode": {"symbols": {"update": {"shape": {"signal": "datum.value === 'a131' ? 'M-1,0H1M0,-0.335L0.388,0.335L-0.388,0.335Z' : 'M-1,0H1M-0.512,0A0.512,0.512 0 1,0 0.512,0A0.512,0.512 0 1,0 -0.512,0'"}, "stroke": {"signal": "datum.value === 'a131' ? '#45c0bd' : '#231f20'"}, "fill": {"signal": "datum.value === 'a131' ? '#45c0bd' : '#231f20'"}, "strokeWidth": {"value": 8}, "strokeCap": {"value": "round"}, "opacity": {"value": 1}, "size": {"value": 6724}}}, "labels": {"update": {"fill": {"signal": "datum.value === 'a131' ? '#292759' : '#231f20'"}}}}}}}},
      {"data": {"name": "pts"}, "transform": [{"filter": "datum.p === 'PIP4K2A' && datum.r === 'filled' && datum.g === 'DMSO'"}], "mark": {"type": "point", "shape": "circle", "filled": true, "opacity": 1, "size": 1963, "strokeWidth": 0},
       "encoding": {"color": {"field": "g", "type": "nominal", "scale": {"range": ["#231f20", "#45c0bd"]}, "legend": {"orient": "none", "legendX": 760, "legendY": 199, "title": null, "values": ["a131", "DMSO"], "padding": 0, "rowPadding": 20, "symbolSize": 6724, "symbolStrokeWidth": 8, "labelFontSize": 70, "labelFont": "Lato", "labelOffset": 34, "labelLimit": 600, "encode": {"symbols": {"update": {"shape": {"signal": "datum.value === 'a131' ? 'M-1,0H1M0,-0.335L0.388,0.335L-0.388,0.335Z' : 'M-1,0H1M-0.512,0A0.512,0.512 0 1,0 0.512,0A0.512,0.512 0 1,0 -0.512,0'"}, "stroke": {"signal": "datum.value === 'a131' ? '#45c0bd' : '#231f20'"}, "fill": {"signal": "datum.value === 'a131' ? '#45c0bd' : '#231f20'"}, "strokeWidth": {"value": 8}, "strokeCap": {"value": "round"}, "opacity": {"value": 1}, "size": {"value": 6724}}}, "labels": {"update": {"fill": {"signal": "datum.value === 'a131' ? '#292759' : '#231f20'"}}}}}}}},
      {"data": {"name": "fit"}, "transform": [{"filter": "datum.p === 'PIP4K2A' && datum.r === 'open' && datum.g === 'a131'"}], "mark": {"type": "line", "interpolate": "monotone", "strokeWidth": 7, "strokeCap": "round"},
       "encoding": {"stroke": {"field": "g", "type": "nominal", "scale": {"range": ["#7b797a", "#273a7d"]}, "legend": {"orient": "none", "legendX": 647, "legendY": 199, "title": null, "values": ["a131", "DMSO"], "padding": 0, "rowPadding": 20, "symbolSize": 6724, "symbolStrokeWidth": 8, "labelFontSize": 70, "labelExpr": "''", "labelOffset": 0, "encode": {"symbols": {"update": {"shape": {"signal": "datum.value === 'a131' ? 'M-1,0H1M0,-0.5L0.578,0.5L-0.578,0.5Z' : 'M-1,0H1M-0.62,0A0.62,0.62 0 1,0 0.62,0A0.62,0.62 0 1,0 -0.62,0'"}, "stroke": {"signal": "datum.value === 'a131' ? '#273a7d' : '#7b797a'"}, "fill": {"value": "transparent"}, "strokeWidth": {"value": 8}, "strokeCap": {"value": "round"}, "opacity": {"value": 1}, "size": {"value": 6724}}}}}}}},
      {"data": {"name": "pts"}, "transform": [{"filter": "datum.p === 'PIP4K2A' && datum.r === 'open' && datum.g === 'a131'"}], "mark": {"type": "point", "shape": "triangle-up", "filled": false, "opacity": 1, "size": 2209, "strokeWidth": 7},
       "encoding": {"stroke": {"field": "g", "type": "nominal", "scale": {"range": ["#7b797a", "#273a7d"]}, "legend": {"orient": "none", "legendX": 647, "legendY": 199, "title": null, "values": ["a131", "DMSO"], "padding": 0, "rowPadding": 20, "symbolSize": 6724, "symbolStrokeWidth": 8, "labelFontSize": 70, "labelExpr": "''", "labelOffset": 0, "encode": {"symbols": {"update": {"shape": {"signal": "datum.value === 'a131' ? 'M-1,0H1M0,-0.5L0.578,0.5L-0.578,0.5Z' : 'M-1,0H1M-0.62,0A0.62,0.62 0 1,0 0.62,0A0.62,0.62 0 1,0 -0.62,0'"}, "stroke": {"signal": "datum.value === 'a131' ? '#273a7d' : '#7b797a'"}, "fill": {"value": "transparent"}, "strokeWidth": {"value": 8}, "strokeCap": {"value": "round"}, "opacity": {"value": 1}, "size": {"value": 6724}}}}}}}},
      {"data": {"name": "fit"}, "transform": [{"filter": "datum.p === 'PIP4K2A' && datum.r === 'filled' && datum.g === 'a131'"}], "mark": {"type": "line", "interpolate": "monotone", "strokeWidth": 7, "strokeCap": "round"},
       "encoding": {"color": {"field": "g", "type": "nominal", "scale": {"range": ["#231f20", "#45c0bd"]}, "legend": {"orient": "none", "legendX": 760, "legendY": 199, "title": null, "values": ["a131", "DMSO"], "padding": 0, "rowPadding": 20, "symbolSize": 6724, "symbolStrokeWidth": 8, "labelFontSize": 70, "labelFont": "Lato", "labelOffset": 34, "labelLimit": 600, "encode": {"symbols": {"update": {"shape": {"signal": "datum.value === 'a131' ? 'M-1,0H1M0,-0.335L0.388,0.335L-0.388,0.335Z' : 'M-1,0H1M-0.512,0A0.512,0.512 0 1,0 0.512,0A0.512,0.512 0 1,0 -0.512,0'"}, "stroke": {"signal": "datum.value === 'a131' ? '#45c0bd' : '#231f20'"}, "fill": {"signal": "datum.value === 'a131' ? '#45c0bd' : '#231f20'"}, "strokeWidth": {"value": 8}, "strokeCap": {"value": "round"}, "opacity": {"value": 1}, "size": {"value": 6724}}}, "labels": {"update": {"fill": {"signal": "datum.value === 'a131' ? '#292759' : '#231f20'"}}}}}}}},
      {"data": {"name": "pts"}, "transform": [{"filter": "datum.p === 'PIP4K2A' && datum.r === 'filled' && datum.g === 'a131'"}], "mark": {"type": "point", "shape": "triangle-up", "filled": true, "opacity": 1, "size": 2116, "strokeWidth": 0},
       "encoding": {"color": {"field": "g", "type": "nominal", "scale": {"range": ["#231f20", "#45c0bd"]}, "legend": {"orient": "none", "legendX": 760, "legendY": 199, "title": null, "values": ["a131", "DMSO"], "padding": 0, "rowPadding": 20, "symbolSize": 6724, "symbolStrokeWidth": 8, "labelFontSize": 70, "labelFont": "Lato", "labelOffset": 34, "labelLimit": 600, "encode": {"symbols": {"update": {"shape": {"signal": "datum.value === 'a131' ? 'M-1,0H1M0,-0.335L0.388,0.335L-0.388,0.335Z' : 'M-1,0H1M-0.512,0A0.512,0.512 0 1,0 0.512,0A0.512,0.512 0 1,0 -0.512,0'"}, "stroke": {"signal": "datum.value === 'a131' ? '#45c0bd' : '#231f20'"}, "fill": {"signal": "datum.value === 'a131' ? '#45c0bd' : '#231f20'"}, "strokeWidth": {"value": 8}, "strokeCap": {"value": "round"}, "opacity": {"value": 1}, "size": {"value": 6724}}}, "labels": {"update": {"fill": {"signal": "datum.value === 'a131' ? '#292759' : '#231f20'"}}}}}}}}
    ]
  }
],
"resolve": {"scale": {"x": "independent", "y": "independent", "color": "independent", "stroke": "independent"}, "legend": {"color": "independent", "stroke": "independent"}}
}
